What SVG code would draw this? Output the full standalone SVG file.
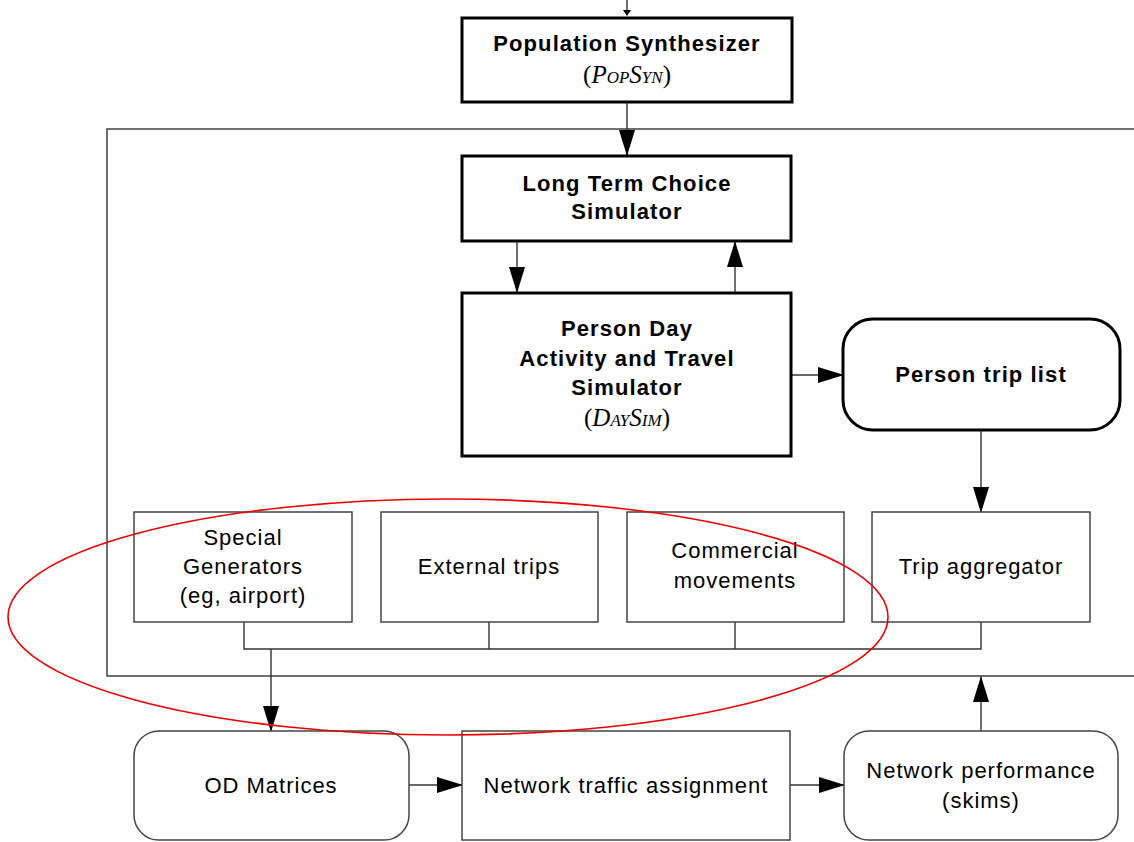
<svg xmlns="http://www.w3.org/2000/svg" width="1134" height="842" viewBox="0 0 1134 842">
<style>
.thick{fill:#fff;stroke:#000;stroke-width:3}
.thin{fill:#fff;stroke:#444;stroke-width:1.5}
.ln{fill:none;stroke:#333;stroke-width:1.4}
.b{font-family:"Liberation Sans",Arial,sans-serif;font-weight:bold;font-size:22px;letter-spacing:1.1px;text-anchor:middle;fill:#000}
.r{font-family:"Liberation Sans",Arial,sans-serif;font-size:22px;letter-spacing:1px;text-anchor:middle;fill:#000}
.s{font-family:"Liberation Serif","Times New Roman",serif;font-size:25px;text-anchor:middle;fill:#000}
.sm{font-size:17px}
</style>
<defs>
<marker id="ah" markerWidth="26" markerHeight="16" refX="25" refY="8" orient="auto" markerUnits="userSpaceOnUse">
<path d="M0,0 L26,8 L0,16 Z" fill="#000"/>
</marker>
</defs>
<rect x="107" y="129" width="1100" height="547" fill="none" stroke="#333" stroke-width="1.4"/>
<g id="connectors">
<line class="ln" x1="627" y1="0" x2="627" y2="10"/>
<path d="M623,10 L631,10 L627,16 Z" fill="#000"/>
<line class="ln" x1="627" y1="102" x2="627" y2="155" marker-end="url(#ah)"/>
<line class="ln" x1="517" y1="241" x2="517" y2="292" marker-end="url(#ah)"/>
<line class="ln" x1="735" y1="293" x2="735" y2="242" marker-end="url(#ah)"/>
<line class="ln" x1="791" y1="375" x2="843" y2="375" marker-end="url(#ah)"/>
<line class="ln" x1="981" y1="430" x2="981" y2="512" marker-end="url(#ah)"/>
<polyline class="ln" points="244,622 244,649 981,649 981,622"/>
<line class="ln" x1="489" y1="622" x2="489" y2="649"/>
<line class="ln" x1="735" y1="622" x2="735" y2="649"/>
<line class="ln" x1="271" y1="649" x2="271" y2="731" marker-end="url(#ah)"/>
<line class="ln" x1="409" y1="785" x2="462" y2="785" marker-end="url(#ah)"/>
<line class="ln" x1="790" y1="785" x2="844" y2="785" marker-end="url(#ah)"/>
<line class="ln" x1="981" y1="731" x2="981" y2="677" marker-end="url(#ah)"/>
</g>
<g id="popsyn">
<rect class="thick" x="462" y="18" width="330" height="84"/>
<text class="b" x="627" y="51">Population Synthesizer</text>
<text class="s" x="627" y="83">(<tspan font-style="italic">P<tspan class="sm">OP</tspan>S<tspan class="sm">YN</tspan></tspan>)</text>
</g>
<g id="ltcs">
<rect class="thick" x="462" y="156" width="329" height="85"/>
<text class="b" x="627" y="191">Long Term Choice</text>
<text class="b" x="627" y="219">Simulator</text>
</g>
<g id="daysim">
<rect class="thick" x="462" y="293" width="329" height="163"/>
<text class="b" x="627" y="336">Person Day</text>
<text class="b" x="627" y="366">Activity and Travel</text>
<text class="b" x="627" y="395">Simulator</text>
<text class="s" x="627" y="426">(<tspan font-style="italic">D<tspan class="sm">AY</tspan>S<tspan class="sm">IM</tspan></tspan>)</text>
</g>
<g id="triplist">
<rect class="thick" x="843" y="319" width="277" height="111" rx="30" ry="30"/>
<text class="b" x="981" y="382">Person trip list</text>
</g>
<g id="special">
<rect class="thin" x="134" y="512" width="218" height="110"/>
<text class="r" x="243" y="545">Special</text>
<text class="r" x="243" y="574">Generators</text>
<text class="r" x="243" y="603">(eg, airport)</text>
</g>
<g id="external">
<rect class="thin" x="381" y="512" width="217" height="110"/>
<text class="r" x="489" y="574">External trips</text>
</g>
<g id="commercial">
<rect class="thin" x="627" y="512" width="217" height="110"/>
<text class="r" x="735" y="558">Commercial</text>
<text class="r" x="735" y="588">movements</text>
</g>
<g id="aggregator">
<rect class="thin" x="872" y="512" width="218" height="110"/>
<text class="r" x="981" y="574">Trip aggregator</text>
</g>
<g id="od">
<rect class="thin" x="134" y="731" width="275" height="109" rx="25" ry="25"/>
<text class="r" x="271" y="793">OD Matrices</text>
</g>
<g id="assignment">
<rect class="thin" x="462" y="731" width="328" height="109"/>
<text class="r" x="626" y="793">Network traffic assignment</text>
</g>
<g id="performance">
<rect class="thin" x="844" y="731" width="274" height="109" rx="25" ry="25"/>
<text class="r" x="981" y="778">Network performance</text>
<text class="r" x="981" y="808">(skims)</text>
</g>
<ellipse cx="448" cy="617" rx="440" ry="118" fill="none" stroke="#e00" stroke-width="1.6"/>
</svg>
